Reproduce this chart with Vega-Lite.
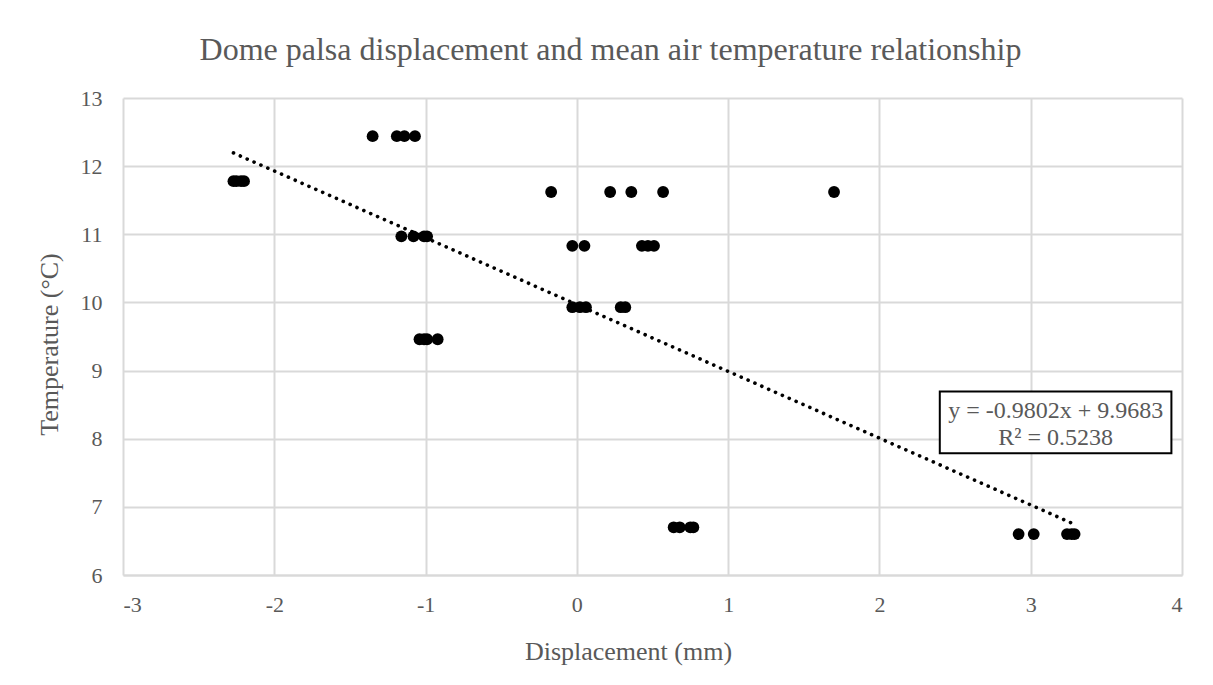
{
  "$schema": "https://vega.github.io/schema/vega-lite/v6.json",
  "width": 1059,
  "height": 477,
  "autosize": {"type": "none"},
  "padding": {"left": 123, "top": 98, "right": 31, "bottom": 110},
  "background": "white",
  "config": {
    "view": {"stroke": null},
    "font": "Liberation Serif"
  },
  "title": {
    "text": "Dome palsa displacement and mean air temperature relationship",
    "font": "Liberation Serif",
    "fontSize": 32,
    "fontWeight": "normal",
    "color": "#595959",
    "anchor": "middle",
    "dx": -42,
    "offset": 20
  },
  "datasets": {
    "points": [
      {"displacement": -1.35, "temperature": 12.44},
      {"displacement": -1.19, "temperature": 12.44},
      {"displacement": -1.14, "temperature": 12.44},
      {"displacement": -1.07, "temperature": 12.44},
      {"displacement": -2.27, "temperature": 11.78},
      {"displacement": -2.25, "temperature": 11.78},
      {"displacement": -2.22, "temperature": 11.78},
      {"displacement": -2.20, "temperature": 11.78},
      {"displacement": -0.17, "temperature": 11.62},
      {"displacement": 0.22, "temperature": 11.62},
      {"displacement": 0.36, "temperature": 11.62},
      {"displacement": 0.57, "temperature": 11.62},
      {"displacement": 1.70, "temperature": 11.62},
      {"displacement": -1.16, "temperature": 10.97},
      {"displacement": -1.08, "temperature": 10.97},
      {"displacement": -1.01, "temperature": 10.97},
      {"displacement": -0.99, "temperature": 10.97},
      {"displacement": -0.03, "temperature": 10.83},
      {"displacement": 0.05, "temperature": 10.83},
      {"displacement": 0.43, "temperature": 10.83},
      {"displacement": 0.47, "temperature": 10.83},
      {"displacement": 0.51, "temperature": 10.83},
      {"displacement": -0.03, "temperature": 9.93},
      {"displacement": 0.02, "temperature": 9.93},
      {"displacement": 0.06, "temperature": 9.93},
      {"displacement": 0.29, "temperature": 9.93},
      {"displacement": 0.32, "temperature": 9.93},
      {"displacement": -1.04, "temperature": 9.46},
      {"displacement": -1.01, "temperature": 9.46},
      {"displacement": -0.99, "temperature": 9.46},
      {"displacement": -0.92, "temperature": 9.46},
      {"displacement": 0.64, "temperature": 6.70},
      {"displacement": 0.68, "temperature": 6.70},
      {"displacement": 0.75, "temperature": 6.70},
      {"displacement": 0.77, "temperature": 6.70},
      {"displacement": 2.92, "temperature": 6.60},
      {"displacement": 3.02, "temperature": 6.60},
      {"displacement": 3.24, "temperature": 6.60},
      {"displacement": 3.27, "temperature": 6.60},
      {"displacement": 3.29, "temperature": 6.60}
    ],
    "trend": [
      {"displacement": -2.27, "temperature": 12.1934},
      {"displacement": 3.29, "temperature": 6.7434}
    ],
    "box": [
      {"x1": 2.399, "x2": 3.93, "y1": 7.787, "y2": 8.692}
    ],
    "equation": [
      {"x": 3.165, "y": 8.40, "label": "y = -0.9802x + 9.9683"},
      {"x": 3.165, "y": 8.01, "label": "R² = 0.5238"}
    ]
  },
  "layer": [
    {
      "mark": {"type": "rule", "color": "#bfbfbf", "strokeWidth": 2},
      "encoding": {
        "x": {"datum": 0, "type": "quantitative", "scale": {"domain": [-3, 4], "nice": false, "zero": false}}
      }
    },
    {
      "data": {"name": "points"},
      "mark": {"type": "circle", "color": "black", "opacity": 1, "size": 140},
      "encoding": {
        "x": {
          "field": "displacement",
          "type": "quantitative",
          "scale": {"domain": [-3, 4], "nice": false, "zero": false},
          "axis": {
            "title": "Displacement (mm)",
            "values": [-3, -2, -1, 0, 1, 2, 3, 4],
            "labelExpr": "'' + datum.value",
            "grid": true,
            "gridColor": "#d9d9d9",
            "gridWidth": 2,
            "domain": true,
            "domainColor": "#d9d9d9",
            "domainWidth": 2,
            "ticks": false,
            "labelFont": "Liberation Serif",
            "labelFontSize": 22,
            "labelColor": "#595959",
            "labelPadding": 19,
            "titleFont": "Liberation Serif",
            "titleFontSize": 26,
            "titleFontWeight": "normal",
            "titleColor": "#595959",
            "titleX": 505,
            "titleY": 84,
            "titleBaseline": "alphabetic",
            "titleAnchor": "middle"
          }
        },
        "y": {
          "field": "temperature",
          "type": "quantitative",
          "scale": {"domain": [6, 13], "nice": false, "zero": false},
          "axis": {
            "title": "Temperature (°C)",
            "values": [6, 7, 8, 9, 10, 11, 12, 13],
            "labelExpr": "'' + datum.value",
            "grid": true,
            "gridColor": "#d9d9d9",
            "gridWidth": 2,
            "domain": false,
            "ticks": false,
            "labelFont": "Liberation Serif",
            "labelFontSize": 22,
            "labelColor": "#595959",
            "labelPadding": 21,
            "titleFont": "Liberation Serif",
            "titleFontSize": 26,
            "titleFontWeight": "normal",
            "titleColor": "#595959",
            "titleX": -66,
            "titleY": 246,
            "titleAngle": -90,
            "titleBaseline": "alphabetic",
            "titleAlign": "center"
          }
        }
      }
    },
    {
      "data": {"name": "trend"},
      "mark": {"type": "line", "color": "black", "strokeWidth": 3.6, "strokeDash": [0.1, 7.4], "strokeCap": "round"},
      "encoding": {
        "x": {"field": "displacement", "type": "quantitative"},
        "y": {"field": "temperature", "type": "quantitative"}
      }
    },
    {
      "data": {"name": "box"},
      "mark": {"type": "rect", "fill": "white", "stroke": "black", "strokeWidth": 2},
      "encoding": {
        "x": {"field": "x1", "type": "quantitative"},
        "x2": {"field": "x2"},
        "y": {"field": "y1", "type": "quantitative"},
        "y2": {"field": "y2"}
      }
    },
    {
      "data": {"name": "equation"},
      "mark": {"type": "text", "font": "Liberation Serif", "fontSize": 24, "color": "#595959", "align": "center", "baseline": "middle"},
      "encoding": {
        "x": {"field": "x", "type": "quantitative"},
        "y": {"field": "y", "type": "quantitative"},
        "text": {"field": "label"}
      }
    }
  ]
}
